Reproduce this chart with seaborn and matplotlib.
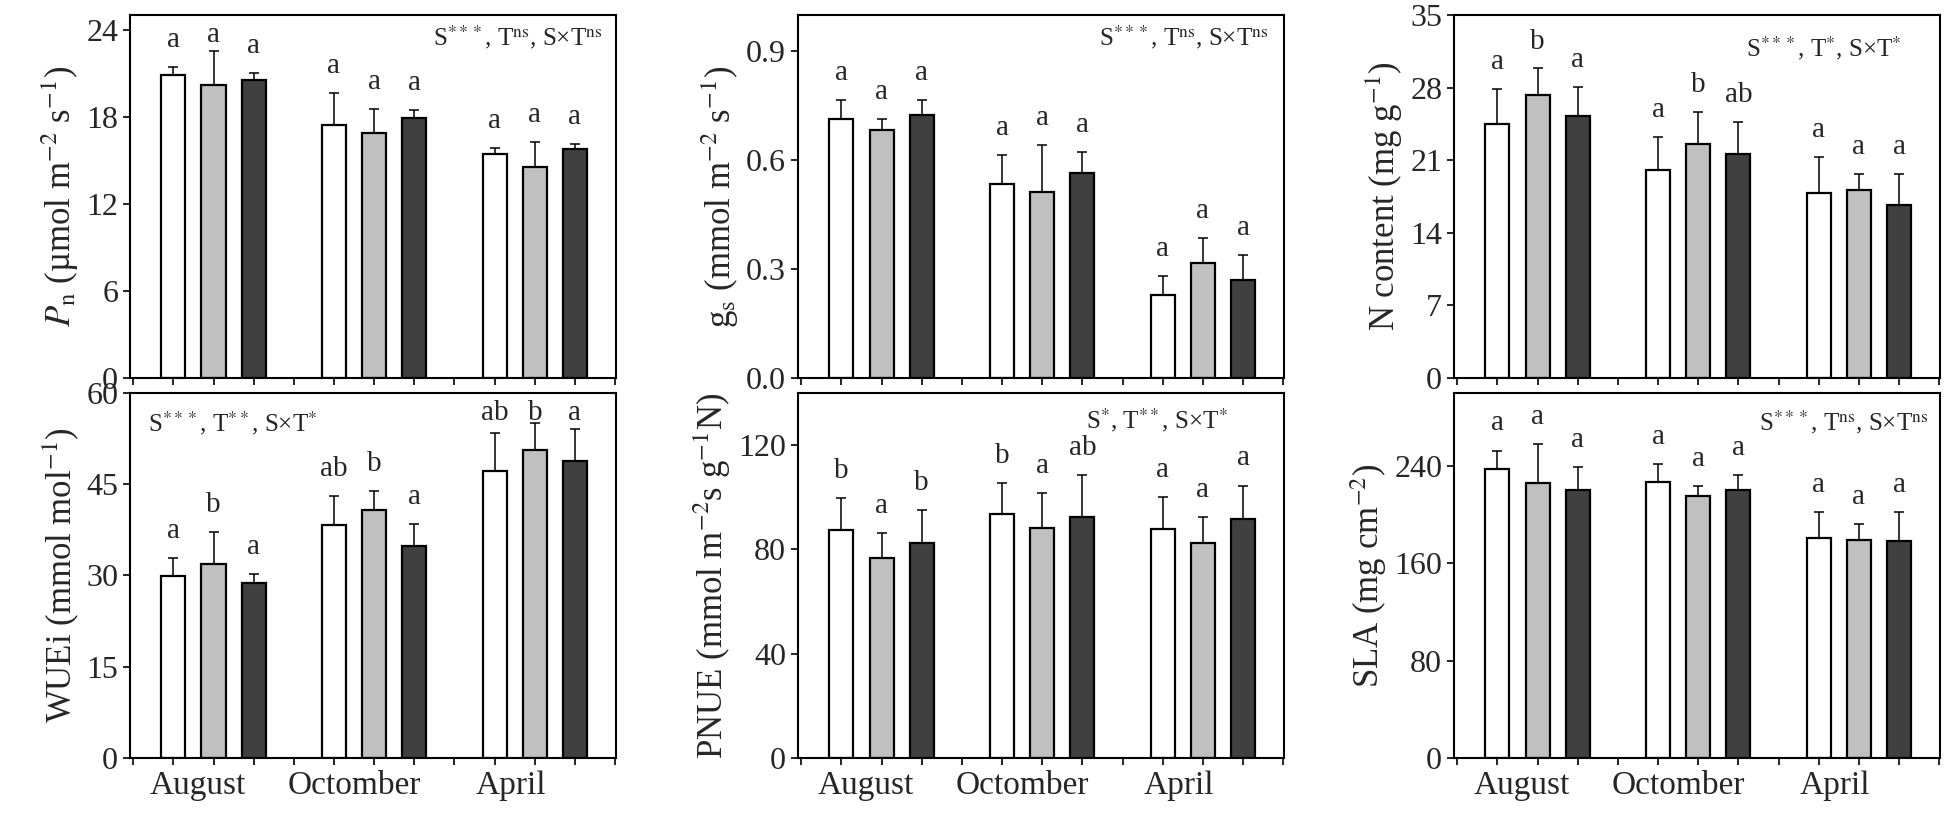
import numpy as np
import pandas as pd
import matplotlib
matplotlib.use('Agg')
import matplotlib.pyplot as plt
import seaborn as sns

# months and the three treatments (white, grey, dark bars)
months = ['August', 'Octomber', 'April']
treatments = ['T1', 'T2', 'T3']
bar_colors = ['#ffffff', '#c0c0c0', '#404040']

# means and upper error (same order: Aug T1..T3, Oct T1..T3, Apr T1..T3)
pn_mean = [20.9, 20.2, 20.55, 17.45, 16.9, 17.9, 15.4, 14.55, 15.8]
pn_err = [0.5, 2.3, 0.45, 2.15, 1.6, 0.55, 0.45, 1.7, 0.3]
pn_letters = ['a', 'a', 'a', 'a', 'a', 'a', 'a', 'a', 'a']

gs_mean = [0.715, 0.684, 0.724, 0.534, 0.513, 0.566, 0.230, 0.318, 0.269]
gs_err = [0.05, 0.03, 0.041, 0.08, 0.13, 0.057, 0.05, 0.067, 0.071]
gs_letters = ['a', 'a', 'a', 'a', 'a', 'a', 'a', 'a', 'a']

n_mean = [24.45, 27.3, 25.25, 20.07, 22.6, 21.6, 17.8, 18.1, 16.7]
n_err = [3.4, 2.55, 2.85, 3.13, 3.1, 3.1, 3.5, 1.55, 2.95]
n_letters = ['a', 'b', 'a', 'a', 'b', 'ab', 'a', 'a', 'a']

wue_mean = [29.84, 31.9, 28.7, 38.3, 40.7, 34.8, 47.2, 50.6, 48.8]
wue_err = [3.06, 5.3, 1.6, 4.7, 3.15, 3.6, 6.3, 4.55, 5.25]
wue_letters = ['a', 'b', 'a', 'ab', 'b', 'a', 'ab', 'b', 'a']

pnue_mean = [87.4, 76.6, 82.3, 93.4, 88.1, 92.4, 87.8, 82.6, 91.5]
pnue_err = [12.4, 9.75, 12.7, 11.9, 13.6, 16.0, 12.4, 9.9, 13.0]
pnue_letters = ['b', 'a', 'b', 'b', 'a', 'ab', 'a', 'a', 'a']

sla_mean = [237.5, 226.2, 220.1, 226.8, 215.2, 220.1, 180.7, 179.0, 178.2]
sla_err = [15.2, 31.7, 19.1, 14.6, 8.5, 12.2, 21.8, 13.3, 24.3]
sla_letters = ['a', 'a', 'a', 'a', 'a', 'a', 'a', 'a', 'a']

anova_ns = r'S$^{***}$, T$^{\rm ns}$, S×T$^{\rm ns}$'
anova_n = r'S$^{***}$, T$^{*}$, S×T$^{*}$'
anova_wue = r'S$^{***}$, T$^{**}$, S×T$^{*}$'
anova_pnue = r'S$^{*}$, T$^{**}$, S×T$^{*}$'

sns.set_theme(style='ticks')
plt.rcParams['font.family'] = ['Liberation Serif', 'DejaVu Serif']
plt.rcParams['mathtext.fontset'] = 'stix'

# bar positions: 3 bars per month, one empty slot between months
pos = [m * 4 + t + 1 for m in range(3) for t in range(3)]
trt = treatments * 3

panels = [
    (pn_mean, pn_err, pn_letters, 25, np.arange(0, 25, 6),
     r'$P_{\rm n}$ (µmol m$^{-2}$ s$^{-1}$)', anova_ns, (0.972, 0.94, 'right')),
    (gs_mean, gs_err, gs_letters, 1.0, np.arange(0, 1.0, 0.3),
     r'g$_{\rm s}$ (mmol m$^{-2}$ s$^{-1}$)', anova_ns, (0.968, 0.94, 'right')),
    (n_mean, n_err, n_letters, 35, np.arange(0, 36, 7),
     r'N content (mg g$^{-1}$)', anova_n, (0.92, 0.91, 'right')),
    (wue_mean, wue_err, wue_letters, 60, np.arange(0, 61, 15),
     r'WUEi (mmol mol$^{-1}$)', anova_wue, (0.037, 0.918, 'left')),
    (pnue_mean, pnue_err, pnue_letters, 140, np.arange(0, 121, 40),
     r'PNUE (mmol m$^{-2}$s g$^{-1}$N)', anova_pnue, (0.885, 0.925, 'right')),
    (sla_mean, sla_err, sla_letters, 300, np.arange(0, 241, 80),
     r'SLA (mg cm$^{-2}$)', anova_ns, (0.977, 0.92, 'right')),
]

fig = plt.figure(figsize=(19.46, 8.14), dpi=100)
lefts = [0.0668, 0.4101, 0.7472]
rows = [(0.5356, 0.4459), (0.0688, 0.4484)]

for i, (mean, err, letters, ymax, yticks, ylabel, anova, apos) in enumerate(panels):
    r, c = divmod(i, 3)
    ax = fig.add_axes([lefts[c], rows[r][0], 0.2497, rows[r][1]])
    df = pd.DataFrame({'pos': pos, 'value': mean, 'err': err, 'trt': trt, 'letter': letters})

    sns.barplot(data=df, x='pos', y='value', hue='trt', palette=bar_colors,
                native_scale=True, dodge=False, width=0.6, edgecolor='black',
                linewidth=1.6, errorbar=None, legend=False, ax=ax, zorder=2)
    ax.errorbar(df['pos'], df['value'], yerr=[np.zeros(len(df)), df['err']],
                fmt='none', ecolor='black', elinewidth=1.1, capsize=3.5, capthick=1.1, zorder=3)
    # significance letters above the error bars, kept inside the frame
    for _, row in df.iterrows():
        y = min(row['value'] + row['err'] + 0.055 * ymax, 0.925 * ymax)
        ax.text(row['pos'], y, row['letter'], ha='center', va='baseline', fontsize=21)

    ax.text(apos[0], apos[1], anova, transform=ax.transAxes, ha=apos[2], va='center',
            fontsize=18)

    ax.set_xlim(-0.08, 12.02)
    ax.set_ylim(0, ymax)
    ax.set_yticks(yticks)
    if ymax == 1.0:
        ax.set_yticklabels([f'{v:.1f}' for v in yticks])
    else:
        ax.set_yticklabels([f'{v:g}' for v in yticks])
    ax.set_xticks(np.arange(0, 13))
    ax.set_xticklabels([])
    if r == 1:
        ax.set_xticks([1.6, 5.5, 9.4], minor=True)
        ax.set_xticklabels(months, minor=True)
    ax.tick_params(axis='x', which='minor', length=0, labelsize=24, pad=9)
    ax.tick_params(axis='both', which='major', direction='out', length=5, width=1.2,
                   labelsize=23, color='black')
    ax.set_xlabel('')
    ax.set_ylabel(ylabel, fontsize=25, labelpad=4)
    for s in ax.spines.values():
        s.set_visible(True)
        s.set_linewidth(1.5)
        s.set_color('black')

fig.savefig('out.png', dpi=100, facecolor='white')
